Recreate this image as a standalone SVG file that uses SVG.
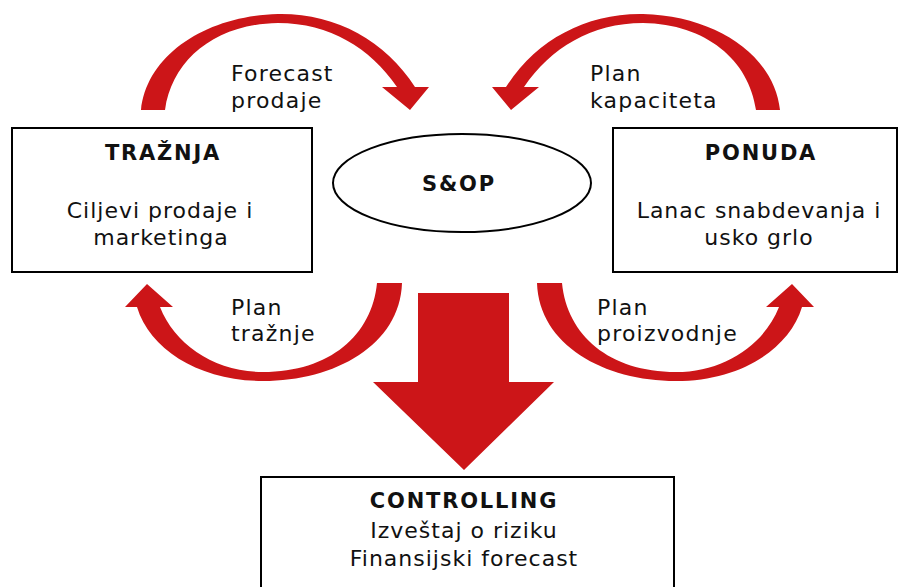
<svg xmlns="http://www.w3.org/2000/svg" width="903" height="587" viewBox="0 0 903 587">
<style>
.box{fill:#fff;stroke:#000;stroke-width:2}
.red{fill:#cc1518}
text{font-family:"DejaVu Sans","Noto Sans",sans-serif;fill:#111}
.t{font-size:21px;font-weight:700;text-anchor:middle;letter-spacing:1.8px}
.b{font-size:22px;text-anchor:middle;letter-spacing:1px}
.l{font-size:22px;letter-spacing:1.2px}
</style>
<defs>
<path id="arcTop" d="M141,110 C147,55 205,16 278,14 C335,13 385,40 415,87 L429,87 L410,110 L382,87 L397,87 C370,48 330,23 278,23 C215,24 172,60 165,110 Z"/>
<path id="arcBot" d="M402,283 C400,345 335,381 263,381 C200,381 150,350 137,307 L125,307 L147,284 L173,307 L160,307 C175,345 215,372 263,372 C330,372 372,335 377,283 Z"/>
</defs>
<g id="connectors">
<use href="#arcTop" class="red"/>
<use href="#arcTop" class="red" transform="translate(921,0) scale(-1,1)"/>
<use href="#arcBot" class="red"/>
<use href="#arcBot" class="red" transform="translate(939,0) scale(-1,1)"/>
<polygon class="red" points="418,293 509,293 509,382 554,382 464,470 373,382 418,382"/>
<text class="l" x="231" y="81">Forecast</text>
<text class="l" x="231" y="108">prodaje</text>
<text class="l" x="590" y="81">Plan</text>
<text class="l" x="590" y="108">kapaciteta</text>
<text class="l" x="231" y="315">Plan</text>
<text class="l" x="231" y="341">tražnje</text>
<text class="l" x="597" y="315">Plan</text>
<text class="l" x="597" y="341">proizvodnje</text>
</g>
<g id="traznja">
<rect class="box" x="12" y="128" width="300" height="144"/>
<text class="t" x="163" y="160">TRAŽNJA</text>
<text class="b" x="160" y="218">Ciljevi prodaje i</text>
<text class="b" x="161" y="245">marketinga</text>
</g>
<g id="ponuda">
<rect class="box" x="613" y="128" width="284" height="144"/>
<text class="t" x="761" y="160">PONUDA</text>
<text class="b" x="759" y="218">Lanac snabdevanja i</text>
<text class="b" x="759" y="245">usko grlo</text>
</g>
<g id="sop">
<ellipse class="box" cx="462" cy="183" rx="129" ry="49"/>
<text class="t" x="459" y="191">S&amp;OP</text>
</g>
<g id="controlling">
<rect class="box" x="261" y="477" width="413" height="130"/>
<text class="t" x="464" y="508">CONTROLLING</text>
<text class="b" x="464" y="538">Izveštaj o riziku</text>
<text class="b" x="464" y="566">Finansijski forecast</text>
</g>
</svg>
